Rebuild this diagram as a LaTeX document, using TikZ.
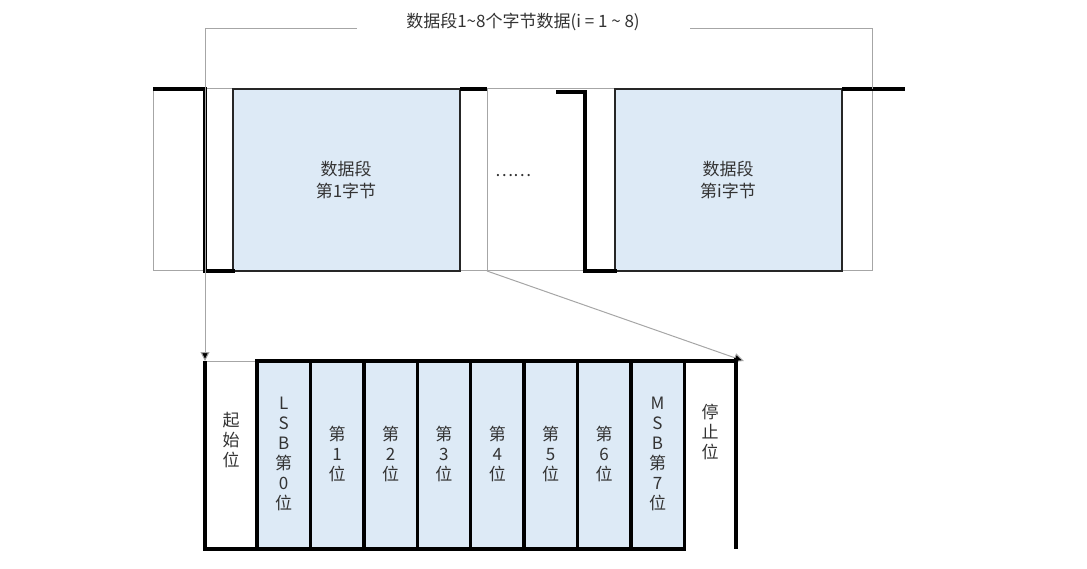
\documentclass[tikz,border=0pt]{standalone}
\usepackage{fontspec}
\setmainfont{Noto Sans CJK SC}
\usetikzlibrary{arrows.meta}
\definecolor{lb}{HTML}{DDEAF6}
\begin{document}
\begin{tikzpicture}[x=1pt,y=-1pt,
  thin gray/.style={draw=gray!70,line width=1pt},
  sig/.style={draw=black,line width=3.6pt},
  byte/.style={draw=black!85,line width=2pt,fill=lb},
  bit/.style={draw=black,line width=3.4pt,fill=lb},
  lbl/.style={font=\fontsize{17}{22}\selectfont,text=black!80,align=center},
  blbl/.style={font=\fontsize{17}{20}\selectfont,text=black!80,align=center}]
\useasboundingbox (0,0) rectangle (1087,569);
% frame
\draw[thin gray] (153,89) rectangle (872,271);
\draw[thin gray] (487,89) -- (487,271);
% bytes
\filldraw[byte] (233,89) rectangle (460,271);
\node[lbl] (b1) at (346,180) {数据段\\第1字节};
\filldraw[byte] (615,89) rectangle (842,271);
\node[lbl] (bi) at (728,180) {数据段\\第i字节};
\node[lbl] (dots) at (513,176) {……};
% signal
\draw[sig] (153,89) -- (205,89) -- (205,271) -- (235,271);
\draw[sig] (460,89) -- (487,89);
\draw[sig] (556,92) -- (585,92) -- (585,271) -- (617,271);
\draw[sig] (842,89) -- (905,89);
% bracket
\node[lbl] (title) at (523,22) {数据段1\textasciitilde8个字节数据(i = 1 \textasciitilde\ 8)};
\draw[thin gray] (357,29) -- (205,29);
\draw[thin gray] (690,29) -- (872,29) -- (872,89);
\coordinate (a1) at (205,361);
\draw[thin gray,-{Triangle[length=9pt,width=9pt,fill=black]}] (205,29) -- (a1);
\coordinate (a2) at (744,361);
\draw[thin gray,-{Triangle[length=10pt,width=9pt,fill=black]}] (487,271) -- (a2);
% bottom
\draw[thin gray] (205,361) -- (257,361);
\draw[sig] (205,361) -- (205,549) -- (684,549);
\draw[sig] (684,361) -- (736,361);
\draw[sig] (736,358) -- (736,549);
\foreach \i/\t in {0/{L\\S\\B\\第\\0\\位},1/{第\\1\\位},2/{第\\2\\位},3/{第\\3\\位},4/{第\\4\\位},5/{第\\5\\位},6/{第\\6\\位},7/{M\\S\\B\\第\\7\\位}}{
  \pgfmathsetmacro\xa{257+53.4*\i}
  \pgfmathsetmacro\xb{257+53.4*(\i+1)}
  \filldraw[bit] (\xa,361) rectangle (\xb,549);
  \node[blbl] (bit\i) at ({(\xa+\xb)/2},454) {\t};
}
\node[blbl] (start) at (231,440) {起\\始\\位};
\node[blbl] (stop) at (710,432) {停\\止\\位};
\end{tikzpicture}
\end{document}
